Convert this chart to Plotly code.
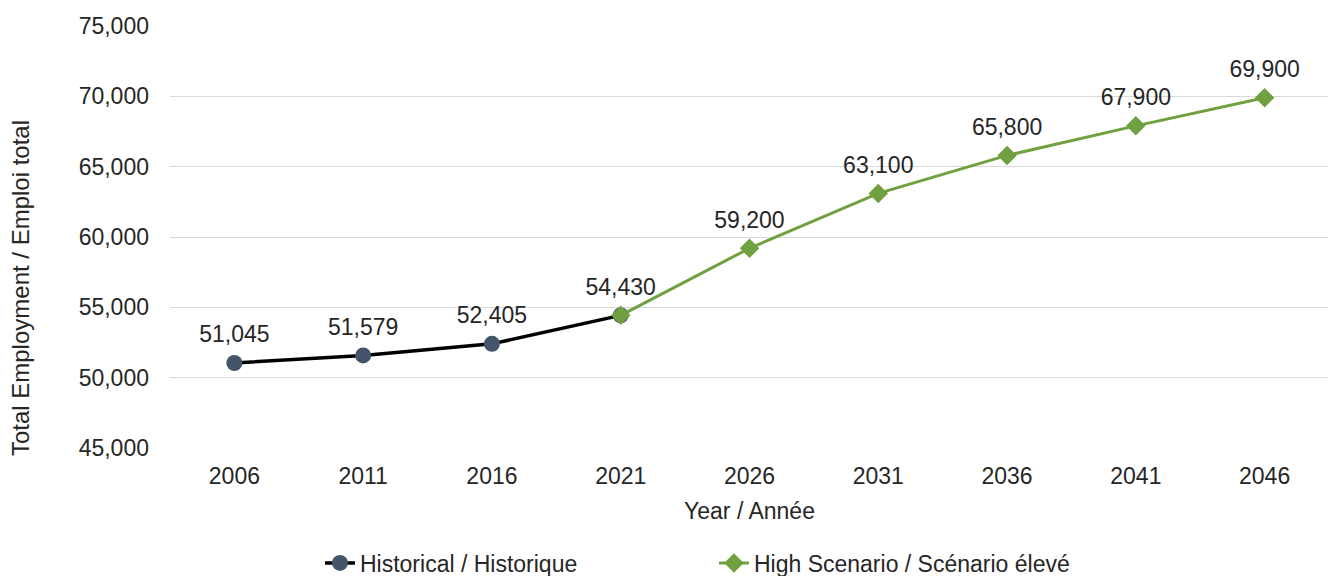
import plotly.graph_objects as go

years = ["2006", "2011", "2016", "2021", "2026", "2031", "2036", "2041", "2046"]
hist_years = ["2006", "2011", "2016", "2021"]
hist_values = [51045, 51579, 52405, 54430]
high_years = ["2021", "2026", "2031", "2036", "2041", "2046"]
high_values = [54430, 59200, 63100, 65800, 67900, 69900]
label_years = years
label_values = hist_values + high_values[1:]
y_ticks = [45000, 50000, 55000, 60000, 65000, 70000, 75000]

FONT = "Liberation Sans, Arial, sans-serif"
DARK = "#44546A"
GREEN = "#70A040"
TXT = "#262626"
FS = 23

fig = go.Figure()
fig.add_trace(go.Scatter(
    x=hist_years, y=hist_values, mode="lines+markers",
    name="Historical / Historique",
    line=dict(color="black", width=3.5),
    marker=dict(symbol="circle", size=16, color=DARK),
))
fig.add_trace(go.Scatter(
    x=high_years, y=high_values, mode="lines+markers",
    name="High Scenario / Scénario élevé",
    line=dict(color=GREEN, width=3),
    marker=dict(symbol="diamond", size=15, color=GREEN),
))
# data labels: invisible markers push the text above each point
fig.add_trace(go.Scatter(
    x=label_years, y=label_values, mode="markers+text",
    text=[f"{v:,}" for v in label_values], textposition="top center",
    textfont=dict(size=FS, color=TXT, family=FONT),
    marker=dict(size=22, opacity=0),
    showlegend=False, hoverinfo="skip",
))

fig.update_layout(
    width=1336, height=576,
    margin=dict(l=162, r=15, t=18, b=136, autoexpand=False),
    paper_bgcolor="white", plot_bgcolor="white",
    font=dict(family=FONT, size=FS, color=TXT),
    showlegend=True,
    legend=dict(orientation="h", xref="container", yref="container",
                x=0.2335, y=0.0365, xanchor="left", yanchor="middle",
                entrywidth=349, font=dict(size=FS, color=TXT, family=FONT),
                traceorder="normal", bgcolor="rgba(0,0,0,0)"),
    xaxis=dict(type="category", categoryorder="array", categoryarray=years,
               showgrid=False, showline=False, ticks="", automargin=False,
               tickfont=dict(size=FS), range=[-0.5, 8.5], ticklabelstandoff=12,
               title=dict(text="Year / Année", font=dict(size=FS), standoff=14)),
    yaxis=dict(range=[45000, 75000], tickvals=y_ticks, tickformat=",",
               showgrid=True, gridcolor="#D9D9D9", gridwidth=1.2,
               zeroline=False, showline=False, ticks="", automargin=False,
               tickfont=dict(size=FS), ticklabelstandoff=20),
    annotations=[dict(text="Total Employment / Emploi total", textangle=-90,
                      xref="paper", yref="paper", x=-0.1294, y=0.379,
                      xanchor="center", yanchor="middle", showarrow=False,
                      font=dict(size=24, color=TXT, family=FONT))],
)

fig.write_html("out.html")
